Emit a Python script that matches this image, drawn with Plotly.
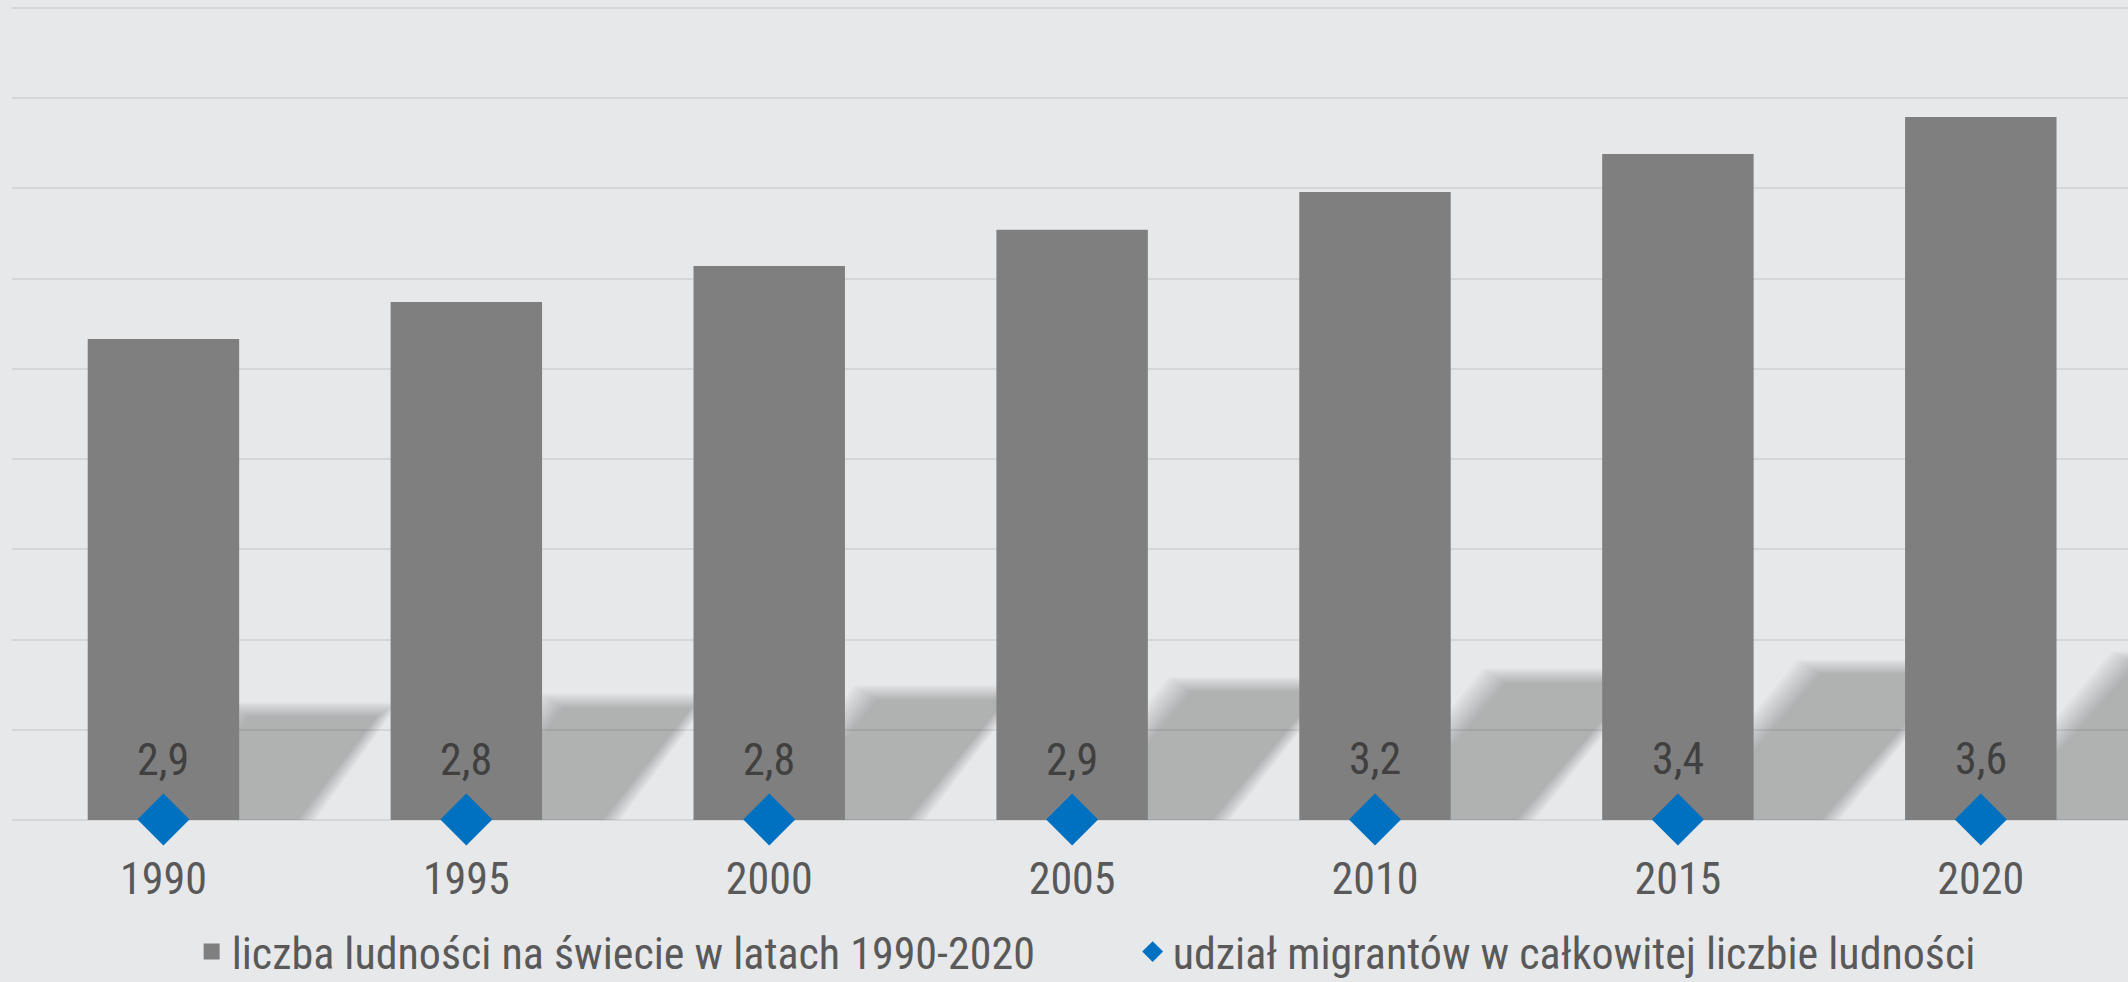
import plotly.graph_objects as go

years = ["1990", "1995", "2000", "2005", "2010", "2015", "2020"]
population_bn = [5.33, 5.74, 6.14, 6.54, 6.96, 7.38, 7.79]
migrant_share = [2.9, 2.8, 2.8, 2.9, 3.2, 3.4, 3.6]
name_pop = "liczba ludności na świecie w latach 1990-2020"
name_share = "udział migrantów w całkowitej liczbie ludności"

FONT = "Roboto Condensed, DejaVu Sans Condensed, sans-serif"
BG = "#E7E8EA"
pos = list(range(len(years)))
BAR_W = 0.5

fig = go.Figure()
fig.add_trace(go.Bar(
    x=pos, y=population_bn, width=BAR_W, name=name_pop, showlegend=False,
    marker=dict(color="#7F7F7F", line=dict(width=0)),
    hoverinfo="skip",
))
# legend proxy for the bars (square swatch)
fig.add_trace(go.Scatter(
    x=[None], y=[None], mode="markers", name=name_pop,
    marker=dict(symbol="square", size=16, color="#7F7F7F"),
))
fig.add_trace(go.Scatter(
    x=pos, y=migrant_share, yaxis="y2", mode="markers", name=name_share,
    marker=dict(symbol="diamond", size=40, color="#0070C0", line=dict(width=0)),
    cliponaxis=False, hoverinfo="skip",
))

# value labels
for p, s in zip(pos, migrant_share):
    fig.add_annotation(
        x=p, y=s, xref="x", yref="y2", text=f"{s:.1f}".replace(".", ","),
        showarrow=False, yanchor="middle", yshift=60,
        font=dict(family=FONT, size=44, color="#404040"),
    )

# soft drop shadows of bars (derived from bar values), layered for blur
SH_H = 0.23    # shadow height relative to bar
SH_K = 0.0925  # horizontal skew (category units per value unit)
PX_X = 302.9   # px per category unit (approx)
PX_Y = 90.2    # px per value unit (approx)
blur_steps = [-7, -5.25, -3.5, -1.75, 0, 1.75, 3.5, 5.25, 7]
alpha = 1 - (1 - 0.22) ** (1 / len(blur_steps))
for p, v in zip(pos, population_bn):
    L, R = p - BAR_W / 2, p + BAR_W / 2
    t, s = SH_H * v, SH_K * v
    for e in blur_steps:
        dx = 1.6 * e / PX_X
        dy = e / PX_Y
        path = (f"M{L - dx},{-1} L{R + dx},{-1} L{R + s + dx},{t + dy} "
                f"L{L + s - dx},{t + dy} Z")
        fig.add_shape(type="path", path=path, xref="x", yref="y", layer="between",
                      fillcolor=f"rgba(0,0,0,{alpha:.4f})", line=dict(width=0))

fig.update_layout(
    width=2128, height=982,
    margin=dict(l=12, r=0, t=6, b=162),
    paper_bgcolor=BG, plot_bgcolor=BG,
    font=dict(family=FONT, size=44, color="#595959"),
    showlegend=True,
    legend=dict(orientation="h", x=0.0849, xanchor="left",
                yref="container", y=1 - 952 / 982, yanchor="middle",
                font=dict(family=FONT, size=44, color="#595959"),
                bgcolor="rgba(0,0,0,0)", entrywidth=896, entrywidthmode="pixels",
                itemsizing="trace", traceorder="normal"),
    xaxis=dict(range=[-0.5, 6.486], tickmode="array", tickvals=pos, ticktext=years,
               showgrid=False, zeroline=False, showline=False, ticks="",
               ticklabelstandoff=29, automargin=False,
               tickfont=dict(family=FONT, size=44, color="#595959")),
    yaxis=dict(range=[0, 9.02], dtick=1, showticklabels=False, showgrid=True,
               gridcolor="#D5D6D8", gridwidth=1.5, zeroline=True,
               zerolinecolor="#D5D6D8", zerolinewidth=1.5, showline=False),
    yaxis2=dict(range=[0, 5000], overlaying="y", visible=False),
)

fig.write_html(
    "out.html",
    config={"displayModeBar": False},
    post_script="document.body.style.margin='0';"
                "document.body.style.background='" + BG + "';",
)
